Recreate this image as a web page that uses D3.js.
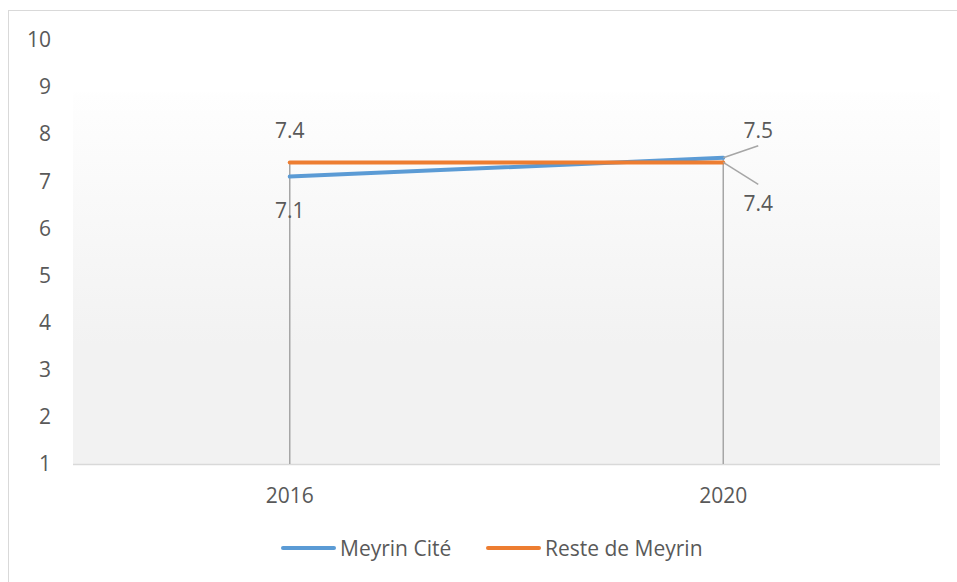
<!DOCTYPE html>
<html>
<head>
<meta charset="utf-8">
<script src="https://cdn.jsdelivr.net/npm/d3@7"></script>
<style>
  html, body { margin: 0; padding: 0; background: #fff; }
  svg text { font-family: "Open Sans", "Noto Sans", sans-serif; fill: #595959; }
</style>
</head>
<body>
<svg id="chart" width="957" height="582"></svg>
<script>
const categories = ["2016", "2020"];
const seriesNames = ["Meyrin Cité", "Reste de Meyrin"];
const meyrinCite = [7.1, 7.5];
const resteMeyrin = [7.4, 7.4];
const yTicks = [1, 2, 3, 4, 5, 6, 7, 8, 9, 10];
const colors = ["#5b9bd5", "#ed7d31"];

const W = 957, H = 582;
const plot = { left: 73, right: 940, top: 40, bottom: 464 };
const svg = d3.select("#chart");

const defs = svg.append("defs");
const grad = defs.append("linearGradient").attr("id", "bg")
  .attr("x1", 0).attr("y1", 0).attr("x2", 0).attr("y2", 1);
[[0, "#ffffff"], [0.12, "#ffffff"], [0.13, "#fefefe"], [0.72, "#f2f2f2"], [1, "#f2f2f2"]]
  .forEach(([o, c]) => grad.append("stop").attr("offset", o).attr("stop-color", c));

// outer chart border
svg.append("rect").attr("x", 8.5).attr("y", 10.5).attr("width", 1200).attr("height", 1200)
  .attr("fill", "none").attr("stroke", "#d9d9d9").attr("stroke-width", 1);

const x = d3.scaleBand().domain(categories).range([plot.left, plot.right]);
const y = d3.scaleLinear().domain([1, 10]).range([plot.bottom, plot.top]);

svg.append("rect").attr("x", plot.left).attr("y", plot.top)
  .attr("width", plot.right - plot.left).attr("height", plot.bottom - plot.top)
  .attr("fill", "url(#bg)");

// y axis labels
const yAxis = d3.axisLeft(y).tickValues(yTicks).tickSize(0).tickPadding(0).tickFormat(d3.format("d"));
const yg = svg.append("g").attr("transform", `translate(51,0)`).call(yAxis);
yg.select(".domain").remove();
yg.selectAll("text").attr("font-size", 21).style("fill", "#595959")
  .style("font-family", '"Open Sans", sans-serif');

// x axis
const xAxis = d3.axisBottom(x).tickSize(0).tickPadding(0);
const xg = svg.append("g").attr("transform", `translate(0,${plot.bottom})`).call(xAxis);
xg.select(".domain").remove();
xg.selectAll("text").attr("font-size", 21).attr("dy", null).attr("y", 39).style("fill", "#595959")
  .style("font-family", '"Open Sans", sans-serif');

svg.append("line").attr("x1", plot.left).attr("x2", plot.right)
  .attr("y1", y(1) + 0.5).attr("y2", y(1) + 0.5)
  .attr("stroke", "#d9d9d9").attr("stroke-width", 1.5);

const cx = c => x(c) + x.bandwidth() / 2;
const data = [meyrinCite, resteMeyrin];

// drop lines
categories.forEach((c, i) => {
  const top = d3.max(data, s => s[i]);
  svg.append("line").attr("x1", cx(c)).attr("x2", cx(c))
    .attr("y1", y(top)).attr("y2", y(1))
    .attr("stroke", "#a6a6a6").attr("stroke-width", 1.5);
});

// series lines
const line = d3.line().x((d, i) => cx(categories[i])).y(d => y(d));
data.forEach((s, k) => {
  svg.append("path").datum(s).attr("d", line)
    .attr("fill", "none").attr("stroke", colors[k]).attr("stroke-width", 4)
    .attr("stroke-linecap", "round");
});

// data labels
const lbl = (tx, ty, t) => svg.append("text").attr("x", tx).attr("y", ty)
  .attr("text-anchor", "middle").attr("font-size", 21).text(t);
const fmt = d3.format(".1f");
lbl(cx(categories[0]), y(resteMeyrin[0]) - 24, fmt(resteMeyrin[0]));
lbl(cx(categories[0]), y(meyrinCite[0]) + 41, fmt(meyrinCite[0]));

// 2020 labels with leader lines
const x20 = cx(categories[1]);
svg.append("line").attr("x1", x20).attr("y1", y(meyrinCite[1]))
  .attr("x2", x20 + 35).attr("y2", y(meyrinCite[1]) - 12)
  .attr("stroke", "#a6a6a6").attr("stroke-width", 1.5);
svg.append("line").attr("x1", x20).attr("y1", y(resteMeyrin[1]))
  .attr("x2", x20 + 35).attr("y2", y(resteMeyrin[1]) + 22)
  .attr("stroke", "#a6a6a6").attr("stroke-width", 1.5);
lbl(x20 + 35, y(meyrinCite[1]) - 20, fmt(meyrinCite[1]));
lbl(x20 + 35, y(resteMeyrin[1]) + 49, fmt(resteMeyrin[1]));

// legend
const legend = [{ x: 283, tx: 340 }, { x: 488, tx: 545 }];
seriesNames.forEach((n, k) => {
  svg.append("line").attr("x1", legend[k].x).attr("x2", legend[k].x + 51)
    .attr("y1", 548).attr("y2", 548).attr("stroke", colors[k]).attr("stroke-width", 4)
    .attr("stroke-linecap", "round");
  svg.append("text").attr("x", legend[k].tx).attr("y", 556).attr("font-size", 21).text(n);
});
</script>
</body>
</html>
